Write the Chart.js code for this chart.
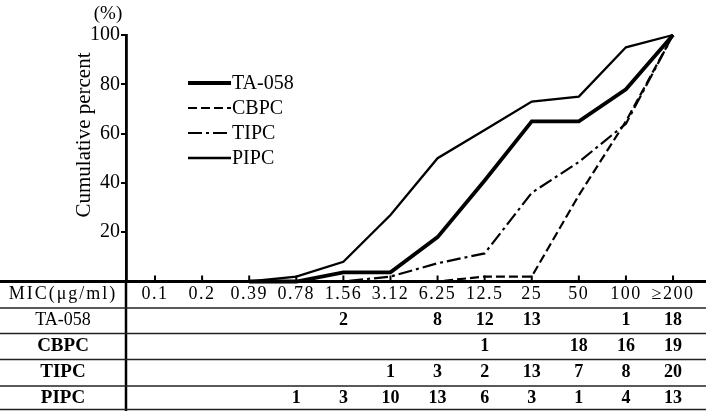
<!DOCTYPE html>
<html><head><meta charset="utf-8">
<script src="https://cdn.jsdelivr.net/npm/chart.js@4.4.0/dist/chart.umd.min.js"></script>
<style>html,body{margin:0;padding:0;background:#fff;}canvas{display:block;}</style>
</head><body>
<canvas id="c" width="706" height="411"></canvas>
<script>
const categories = ['0.1','0.2','0.39','0.78','1.56','3.12','6.25','12.5','25','50','100','≥200'];
const seriesNames = ['TA-058','CBPC','TIPC','PIPC'];
const ta058 = [null,null,0,0,3.7,3.7,18,41,65,65,78,100];
const cbpc  = [null,null,0,0,0,0,0,2,2,35,65,100];
const tipc  = [null,null,0,0,0,2,7.4,11.4,36,48.5,64,100];
const pipc  = [null,null,0,2,8,27,50,61.5,73,75,95,100];
const countTA = [null,null,null,null,2,null,8,12,13,null,1,18];
const countCB = [null,null,null,null,null,null,null,1,null,18,16,19];
const countTI = [null,null,null,null,null,1,3,2,13,7,8,20];
const countPI = [null,null,null,1,3,10,13,6,3,1,4,13];
const yTicks = [20,40,60,80,100];

const SERIF = '"Liberation Serif", "DejaVu Serif", serif';
const toPts = arr => arr.map((v,i)=>({x:i,y:v}));
const styles = [
  {w:3.8, dash:[]},
  {w:2.2, dash:[9,4]},
  {w:2.2, dash:[14,4,3,4]},
  {w:2.3, dash:[]}
];
const seriesData = [ta058,cbpc,tipc,pipc];
const counts = [countTA,countCB,countTI,countPI];

const tablePlugin = {
  id:'tablePlugin',
  afterDraw(chart){
    const ctx = chart.ctx, area = chart.chartArea;
    const xs = chart.scales.x, ys = chart.scales.y;
    const axisY = ys.getPixelForValue(0);
    ctx.save();
    ctx.strokeStyle = '#000'; ctx.fillStyle = '#000';
    // x axis line
    ctx.lineWidth = 3;
    ctx.beginPath(); ctx.moveTo(0,axisY); ctx.lineTo(706,axisY); ctx.stroke();
    // ticks
    ctx.lineWidth = 2;
    categories.forEach((c,i)=>{
      const x = xs.getPixelForValue(i);
      ctx.beginPath(); ctx.moveTo(x,axisY); ctx.lineTo(x,axisY-6); ctx.stroke();
    });
    // vertical line through table
    ctx.lineWidth = 2.5;
    ctx.beginPath(); ctx.moveTo(area.left,axisY); ctx.lineTo(area.left,411); ctx.stroke();
    // row lines
    ctx.lineWidth = 1.6; ctx.strokeStyle = '#222';
    [308,333.5,359.5,386,409.5].forEach(y=>{
      ctx.beginPath(); ctx.moveTo(0,y); ctx.lineTo(706,y); ctx.stroke();
    });
    // table text
    ctx.textAlign = 'center'; ctx.textBaseline = 'middle';
    ctx.font = '18px ' + SERIF;
    ctx.letterSpacing = '2px';
    ctx.fillText('MIC(μg/ml)', 63, 294);
    ctx.letterSpacing = '1.5px';
    categories.forEach((c,i)=>{
      ctx.fillText(c, xs.getPixelForValue(i), 294);
    });
    ctx.letterSpacing = '0px';
    const rowY = [320.5,346,372.5,398];
    seriesNames.forEach((n,r)=>{
      ctx.font = (r === 0 ? '18px ' : 'bold 19px ') + SERIF;
      ctx.fillText(n, 63, rowY[r]);
      ctx.font = 'bold 18px ' + SERIF;
      counts[r].forEach((v,i)=>{
        if (v !== null) ctx.fillText(String(v), xs.getPixelForValue(i), rowY[r]);
      });
    });
    // legend
    ctx.font = '20px ' + SERIF;
    ctx.textAlign = 'left';
    const legY = [83,108,133,158];
    seriesNames.forEach((n,r)=>{
      ctx.lineWidth = styles[r].w; ctx.setLineDash(styles[r].dash); ctx.strokeStyle = '#000';
      ctx.beginPath(); ctx.moveTo(188,legY[r]); ctx.lineTo(231,legY[r]); ctx.stroke();
      ctx.setLineDash([]);
      ctx.fillText(n, 232, legY[r]+1);
    });
    // (%) and y title
    ctx.font = '19px ' + SERIF;
    ctx.textAlign = 'center';
    ctx.fillText('(%)', 108, 14);
    ctx.save();
    ctx.translate(84,135); ctx.rotate(-Math.PI/2);
    ctx.font = '21px ' + SERIF;
    ctx.fillText('Cumulative percent', 0, 0);
    ctx.restore();
    ctx.restore();
  }
};

new Chart(document.getElementById('c'), {
  type:'line',
  data:{
    datasets: seriesNames.map((n,r)=>({
      label:n,
      data: toPts(seriesData[r]),
      borderColor:'#000',
      borderWidth: styles[r].w,
      borderDash: styles[r].dash,
      pointRadius:0,
      tension:0,
      fill:false,
      clip:false,
      spanGaps:false
    }))
  },
  options:{
    responsive:false,
    animation:false,
    devicePixelRatio:1,
    layout:{padding:{top:35,bottom:129.5,left:0,right:0}},
    plugins:{legend:{display:false},tooltip:{enabled:false}},
    scales:{
      x:{type:'linear',display:false,min:-0.616,max:11.7},
      y:{
        min:0,max:100,
        afterFit(s){ s.width = 126; },
        afterBuildTicks(s){ s.ticks = yTicks.map(v=>({value:v})); },
        ticks:{color:'#000',padding:1,font:{family:SERIF,size:20},callback:v=>String(v)},
        grid:{drawOnChartArea:false,drawTicks:true,tickLength:5,color:'#000',lineWidth:2},
        border:{display:true,color:'#000',width:2.8}
      }
    }
  },
  plugins:[tablePlugin]
});
</script>
</body></html>
